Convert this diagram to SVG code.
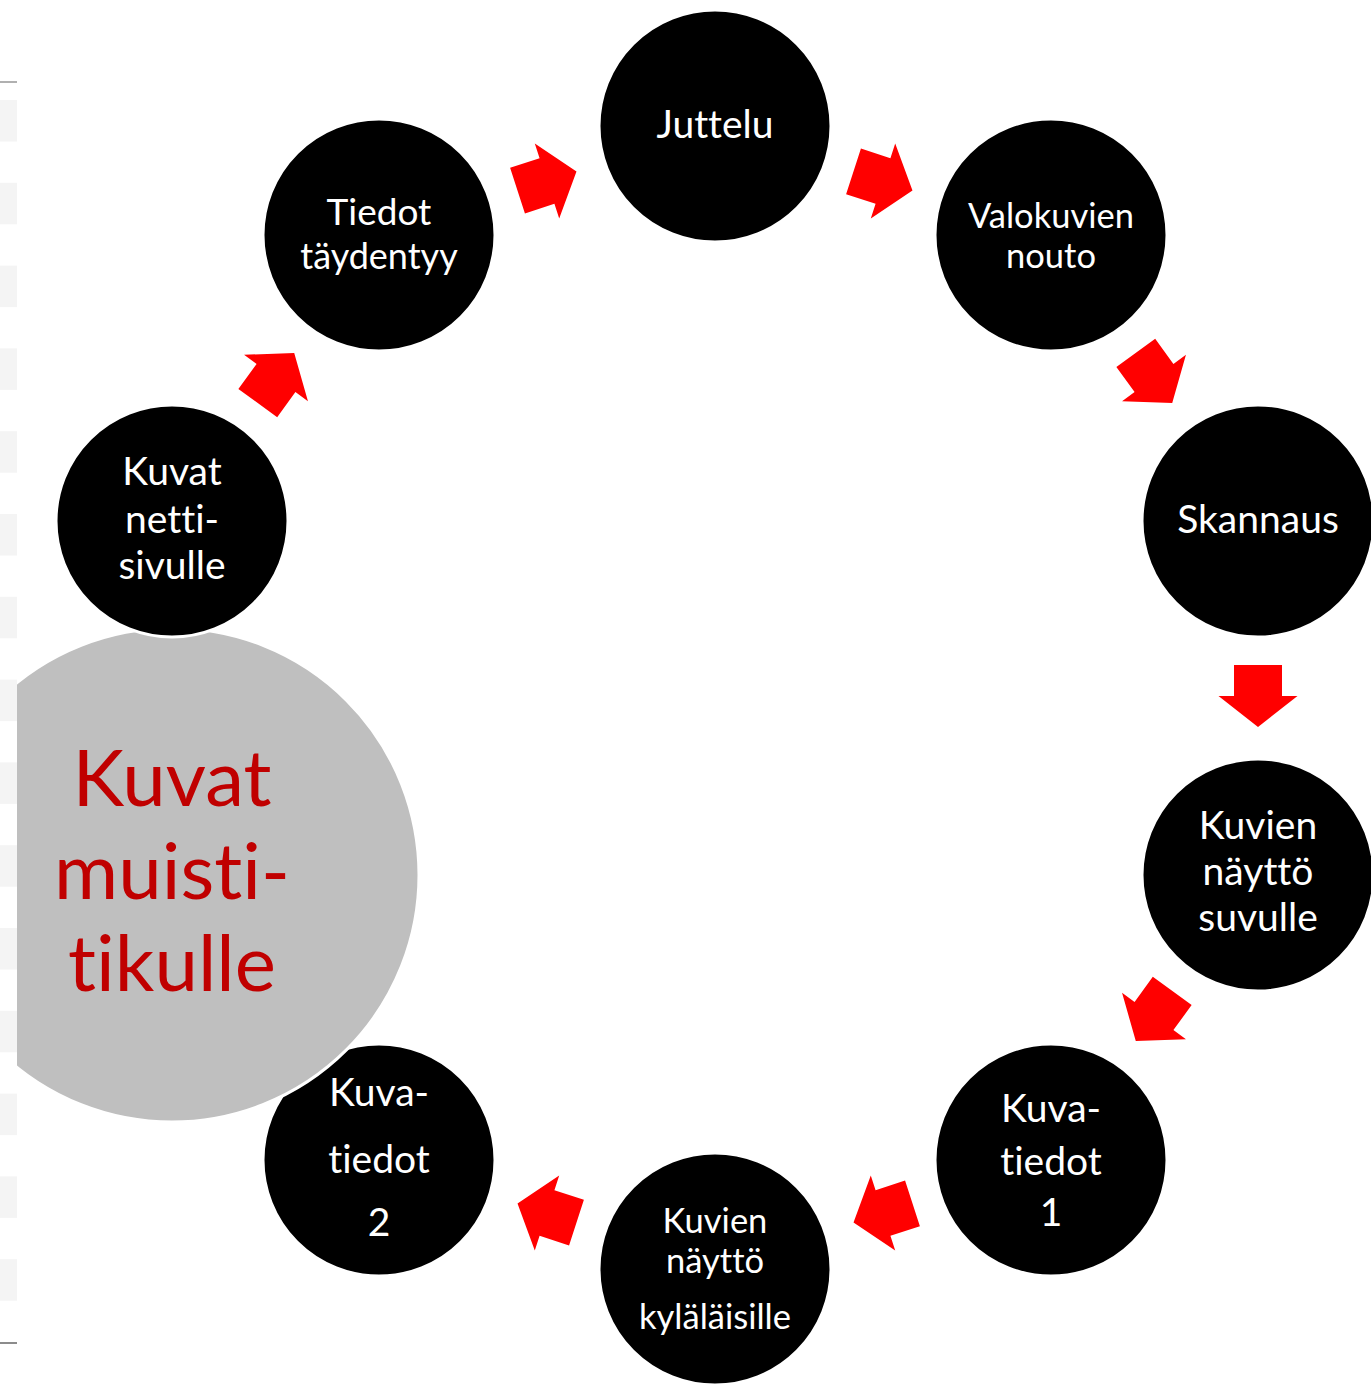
<svg xmlns="http://www.w3.org/2000/svg" width="1371" height="1385" viewBox="0 0 1371 1385">
<style>
.node{fill:#000;stroke:#fff;stroke-width:3}
.t{font-family:Lato,"Noto Sans",sans-serif;fill:#fff;text-anchor:middle;font-variant-ligatures:none;font-size:39px}
.s{font-size:34.5px}
.big{font-family:Lato,"Noto Sans",sans-serif;fill:#c00000;text-anchor:middle;font-size:78px;font-variant-ligatures:none}
.arr{fill:#ff0000}
.blk{fill:#f4f4f4}
</style>
<defs>
<path id="arrow" d="M-31,-24 L0,-24 L0,-39.5 L31,0 L0,39.5 L0,24 L-31,24 Z"/>
</defs>
<rect width="1371" height="1385" fill="#fff"/>

<g id="node-kuvatiedot2">
<circle class="node" cx="379" cy="1160" r="116"/>
</g>
<g id="node-muistitikku">
<circle cx="172" cy="875" r="247" fill="#bfbfbf" stroke="#fff" stroke-width="3"/>
<text class="big" x="172" y="806">Kuvat</text>
<text class="big" x="172" y="899">muisti-</text>
<text class="big" x="172" y="991">tikulle</text>
</g>
<g id="node-kuvatiedot2-text">
<text class="t" x="379" y="1106">Kuva-</text>
<text class="t" x="379" y="1173">tiedot</text>
<text class="t" x="379" y="1236">2</text>
</g>
<g id="node-juttelu">
<circle class="node" cx="715" cy="126" r="116"/>
<text class="t" x="715" y="138">Juttelu</text>
</g>
<g id="node-valokuvien">
<circle class="node" cx="1051" cy="235" r="116"/>
<text class="t s" x="1051" y="228">Valokuvien</text>
<text class="t s" x="1051" y="268">nouto</text>
</g>
<g id="node-skannaus">
<circle class="node" cx="1258" cy="521" r="116"/>
<text class="t" x="1258" y="533">Skannaus</text>
</g>
<g id="node-suvulle">
<circle class="node" cx="1258" cy="875" r="116"/>
<text class="t" x="1258" y="839">Kuvien</text>
<text class="t" x="1258" y="885">näyttö</text>
<text class="t" x="1258" y="931">suvulle</text>
</g>
<g id="node-kuvatiedot1">
<circle class="node" cx="1051" cy="1160" r="116"/>
<text class="t" x="1051" y="1122">Kuva-</text>
<text class="t" x="1051" y="1175">tiedot</text>
<text class="t" x="1051" y="1226">1</text>
</g>
<g id="node-kylalaisille">
<circle class="node" cx="715" cy="1269" r="116"/>
<text class="t s" x="715" y="1233">Kuvien</text>
<text class="t s" x="715" y="1273">näyttö</text>
<text class="t s" x="715" y="1329">kyläläisille</text>
</g>
<g id="node-nettisivulle">
<circle class="node" cx="172" cy="521" r="116"/>
<text class="t" x="172" y="485">Kuvat</text>
<text class="t" x="172" y="533">netti-</text>
<text class="t" x="172" y="579">sivulle</text>
</g>
<g id="node-tiedot">
<circle class="node" cx="379" cy="235" r="116"/>
<text class="t" x="379" y="225" style="font-size:37px">Tiedot</text>
<text class="t" x="379" y="269" style="font-size:36px">täydentyy</text>
</g>

<g id="connectors" class="arr">
<use href="#arrow" transform="translate(883,181) rotate(18)"/>
<use href="#arrow" transform="translate(1154,378) rotate(54)"/>
<use href="#arrow" transform="translate(1258,696) rotate(90)"/>
<use href="#arrow" transform="translate(1154,1016) rotate(126)"/>
<use href="#arrow" transform="translate(883,1213) rotate(162)"/>
<use href="#arrow" transform="translate(547,1213) rotate(198)"/>
<use href="#arrow" transform="translate(276,378) rotate(306)"/>
<use href="#arrow" transform="translate(547,181) rotate(342)"/>
</g>

<g id="left-strip">
<rect x="0" y="0" width="17" height="1385" fill="#fff"/>
<rect class="blk" x="0" y="100" width="17" height="41.5"/>
<rect class="blk" x="0" y="182.8" width="17" height="41.5"/>
<rect class="blk" x="0" y="265.6" width="17" height="41.5"/>
<rect class="blk" x="0" y="348.4" width="17" height="41.5"/>
<rect class="blk" x="0" y="431.2" width="17" height="41.5"/>
<rect class="blk" x="0" y="514" width="17" height="41.5"/>
<rect class="blk" x="0" y="596.8" width="17" height="41.5"/>
<rect class="blk" x="0" y="679.6" width="17" height="41.5"/>
<rect class="blk" x="0" y="762.4" width="17" height="41.5"/>
<rect class="blk" x="0" y="845.2" width="17" height="41.5"/>
<rect class="blk" x="0" y="928" width="17" height="41.5"/>
<rect class="blk" x="0" y="1010.8" width="17" height="41.5"/>
<rect class="blk" x="0" y="1093.6" width="17" height="41.5"/>
<rect class="blk" x="0" y="1176.4" width="17" height="41.5"/>
<rect class="blk" x="0" y="1259.2" width="17" height="41.5"/>
<rect x="0" y="81" width="17" height="2" fill="#b0b0b0"/>
<rect x="0" y="1342" width="17" height="2" fill="#8c8c8c"/>
</g>
</svg>
